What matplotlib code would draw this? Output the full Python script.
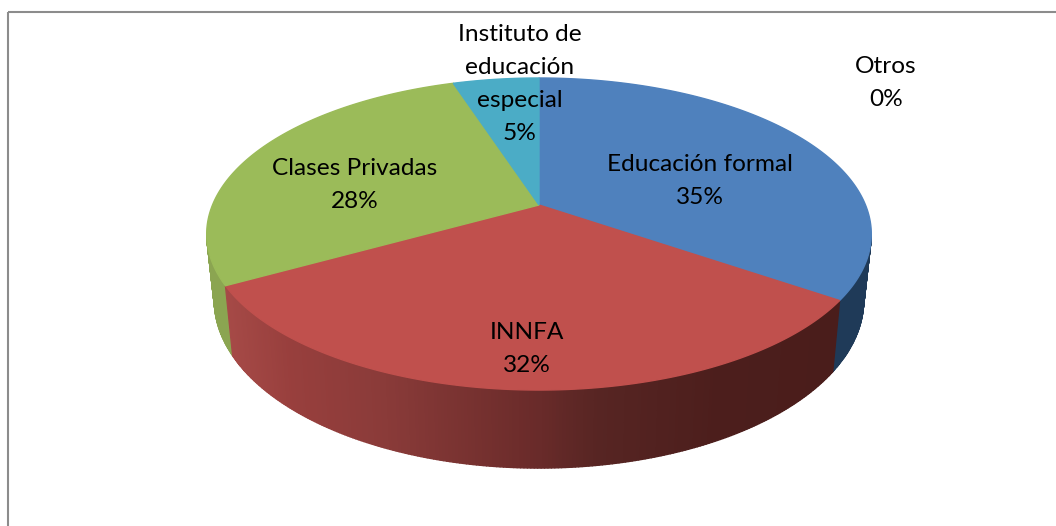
import numpy as np
import matplotlib
matplotlib.use("Agg")
import matplotlib.pyplot as plt
from matplotlib.collections import PolyCollection
from matplotlib.colors import to_rgb

#___chart data___#
categories = ["Educación formal", "INNFA", "Clases Privadas", "Instituto de\neducación\nespecial", "Otros"]
values = [34.6, 32.3, 28.1, 5.0, 0.0]

top_colors = ["#4f81bd", "#c0504d", "#9bbb59", "#4bacc6", "#f79646"]

#___wall shading, position along x against colour___#
wall_x = [225, 290, 383, 536, 597, 720, 840]
wall_shades = {
    0: ["#1f3a58"] * 7,
    1: ["#a64a47", "#983f3d", "#8a3b39", "#6a2b2a", "#572523", "#4c1e1c", "#4a1d1b"],
    2: ["#8ba551"] * 7,
    3: ["#2f7f94"] * 7,
    4: ["#b56a2c"] * 7,
}

#___label positions in pixels (centre of the text block)___#
label_pos = [(700, 181), (527, 349), (355, 185), (520, 84), (886, 83)]

#___pie shape in pixels (perspective view of a circle)___#
cx = 539
top_a, top_b, top_c = 326.5, -112.5, 205
bot_a, bot_b, bot_c = 319, -112.0, 269
k = 0.186


def rim(t, a, b, c):
    # t is clockwise from 12 o'clock, goes through a perspective division
    X = np.sin(t)
    Y = np.cos(t)
    w = 1 + k * Y
    return cx + a * X / w, (c + b * Y) / w


fractions = np.array(values) / sum(values)
edges = np.concatenate([[0], np.cumsum(fractions)]) * 2 * np.pi

fig = plt.figure(figsize=(10.56, 5.26), dpi=100)
ax = fig.add_axes([0, 0, 1, 1])
ax.set_xlim(0, 1056)
ax.set_ylim(526, 0)
ax.axis("off")

#___outer chart frame, only left and top fall inside the picture___#
ax.add_patch(plt.Rectangle((8, 12), 1200, 700, fill=False, edgecolor="#8c8c8c", linewidth=1.5))

#___side wall, small quads drawn from far to near, hidden part of the wall is skipped___#
quads = []
quad_colors = []
quad_depth = []
for i in range(len(values)):
    if values[i] == 0:
        continue
    n = max(int(fractions[i] * 720), 2)
    ts = np.linspace(edges[i], edges[i + 1], n + 1)
    shades = np.array([to_rgb(s) for s in wall_shades[i]])
    for t0, t1 in zip(ts[:-1], ts[1:]):
        if np.cos(t0) > -0.2 and np.cos(t1) > -0.2:
            continue
        x0, y0 = rim(t0, top_a, top_b, top_c)
        x1, y1 = rim(t1, top_a, top_b, top_c)
        x2, y2 = rim(t1, bot_a, bot_b, bot_c)
        x3, y3 = rim(t0, bot_a, bot_b, bot_c)
        quads.append([(x0, y0), (x1, y1), (x2, y2), (x3, y3)])
        xm = (x0 + x1) / 2
        quad_colors.append([np.interp(xm, wall_x, shades[:, j]) for j in range(3)])
        quad_depth.append(y0 + y1)

order = np.argsort(quad_depth)
walls = PolyCollection([quads[j] for j in order], facecolors=[quad_colors[j] for j in order],
                       edgecolors=[quad_colors[j] for j in order], linewidths=1.0)
ax.add_collection(walls)

#___top face of each slice, the thin edge also hides the wall fringe___#
for i in range(len(values)):
    if values[i] == 0:
        continue
    ts = np.linspace(edges[i], edges[i + 1], 300)
    xs, ys = rim(ts, top_a, top_b, top_c)
    xs = np.concatenate([[cx], xs])
    ys = np.concatenate([[top_c], ys])
    ax.fill(xs, ys, color=top_colors[i], linewidth=1.0)

#___labels___#
for name, v, pos in zip(categories, values, label_pos):
    ax.text(pos[0], pos[1], f"{name}\n{round(v)}%", ha="center", va="center", fontsize=17.6,
            family="Lato", color="black", linespacing=1.7)

fig.savefig("out.png", dpi=100)
